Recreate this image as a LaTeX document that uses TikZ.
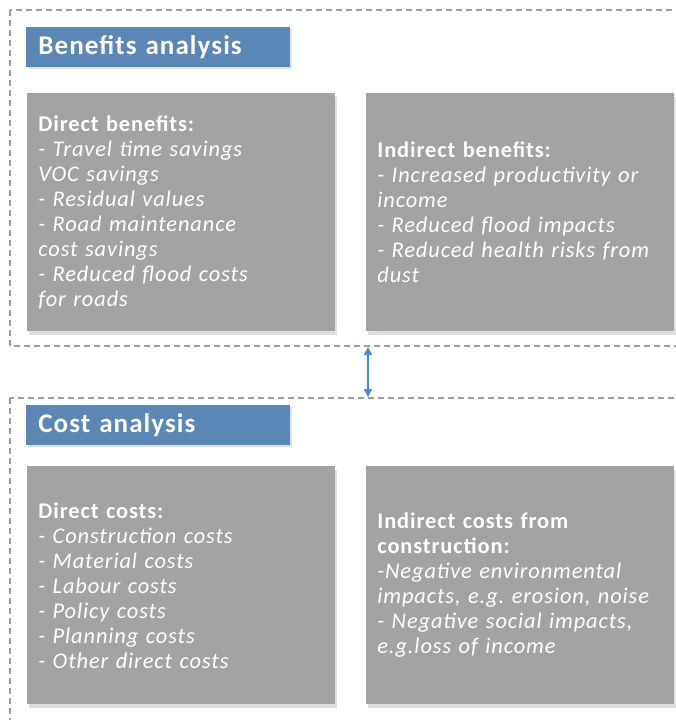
\documentclass[tikz,border=0pt]{standalone}
\usepackage{fontspec}
\setmainfont{Carlito}[LetterSpace=4]
\usetikzlibrary{arrows.meta,shadows}
\definecolor{titleblue}{HTML}{5B87B5}
\definecolor{boxgray}{HTML}{A3A3A3}
\definecolor{framegray}{HTML}{9C9C9C}
\definecolor{linkblue}{HTML}{4C89C6}

\begin{document}
\begin{tikzpicture}[x=0.5pt,y=-0.5pt,
    frame/.style={draw=framegray, dash pattern=on 3pt off 2pt, line width=0.6pt},
    title/.style={fill=titleblue, text=white, anchor=north west, minimum height=20pt,
        text width=120pt, inner xsep=6pt, inner ysep=0pt, align=left,
        font=\fontsize{13.5}{15}\selectfont\bfseries,
        drop shadow={shadow xshift=0.6pt, shadow yshift=-0.8pt, opacity=0.25}},
    item/.style={fill=boxgray, text=white, anchor=north west, minimum height=119pt,
        text width=143pt, inner xsep=5.5pt, align=left,
        font=\fontsize{11.2}{12.5}\selectfont,
        drop shadow={shadow xshift=1pt, shadow yshift=-2pt, opacity=0.25}},
    link/.style={{Triangle[length=4pt,width=4pt]}-{Triangle[length=4pt,width=4pt]},
        draw=linkblue, line width=0.8pt}]
        \useasboundingbox (0,0) rectangle (676,720);
        \clip (0,0) rectangle (676,720);
        % frames
        \draw[frame] (10,10) rectangle (700,346);
        \draw[frame] (10,398) rectangle (700,740);
        % benefits
        \node[title] (bentitle) at (26,27) {Benefits analysis};
        \node[item] (direct) at (27,93) {\textbf{Direct benefits:}\\
            \textit{- Travel time savings}\\
            \textit{VOC savings}\\
            \textit{- Residual values}\\
            \textit{- Road maintenance}\\
            \textit{cost savings}\\
            \textit{- Reduced flood costs}\\
            \textit{for roads}};
        \node[item] (indirect) at (366,93) {\textbf{Indirect benefits:}\\
            \textit{- Increased productivity or}\\
            \textit{income}\\
            \textit{- Reduced flood impacts}\\
            \textit{- Reduced health risks from}\\
            \textit{dust}};
        % costs
        \node[title] (costtitle) at (26,405) {Cost analysis};
        \node[item] (dircost) at (27,466) {\textbf{Direct costs:}\\
            \textit{- Construction costs}\\
            \textit{- Material costs}\\
            \textit{- Labour costs}\\
            \textit{- Policy costs}\\
            \textit{- Planning costs}\\
            \textit{- Other direct costs}};
        \node[item] (indcost) at (366,466) {\textbf{Indirect costs from}\\
            \textbf{construction:}\\
            \textit{-Negative environmental}\\
            \textit{impacts, e.g.\ erosion, noise}\\
            \textit{- Negative social impacts,}\\
            \textit{e.g.loss of income}};
        % link between the two analyses
        \coordinate (bendown) at (368,347);
        \coordinate (costup) at (368,397);
        \draw[link] (bendown) -- (costup);
\end{tikzpicture}
\end{document}
